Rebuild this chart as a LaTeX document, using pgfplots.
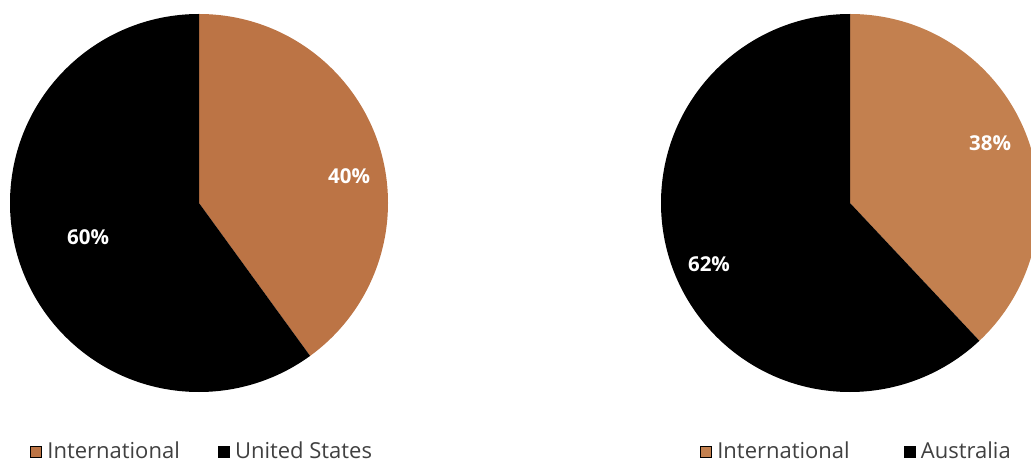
\documentclass[border=0pt]{standalone}
\usepackage{pgfplots}
\pgfplotsset{compat=1.18}
\usepackage{pgfplotstable}
\usepackage{fontspec}
\setmainfont{Open Sans}
\definecolor{orangeL}{HTML}{BC7445}
\definecolor{orangeR}{HTML}{C3804F}
\pgfplotstableread{
label value
International 40
UnitedStates 60
}\leftdata
\pgfplotstableread{
label value
International 38
Australia 62
}\rightdata
\tikzset{lbl/.style={font=\fontsize{20.5}{25}\selectfont\bfseries, text=white, anchor=center}}
\begin{document}
\pgfplotstablegetelem{0}{value}\of\leftdata \let\leftA\pgfplotsretval
\pgfplotstablegetelem{1}{value}\of\leftdata \let\leftB\pgfplotsretval
\pgfplotstablegetelem{0}{value}\of\rightdata \let\rightA\pgfplotsretval
\pgfplotstablegetelem{1}{value}\of\rightdata \let\rightB\pgfplotsretval
\begin{tikzpicture}[x=1pt,y=1pt]
\useasboundingbox (0,0) rectangle (1031,461);
\clip (0,0) rectangle (1031,461);
\pgfplotsset{
  pieax/.style={
    scale only axis, width=378pt, height=378pt,
    xmin=-1, xmax=1, ymin=-1, ymax=1,
    hide axis, clip=false,
    legend columns=2,
    legend style={draw=none, fill=none, anchor=west, inner sep=0pt,
      font=\fontsize{22}{26}\selectfont\color[HTML]{404040},
      nodes={inner sep=2pt}},
    legend image code/.code={\fill[##1] (0pt,-5.5pt) rectangle (11pt,5.5pt); \path[draw=none,fill=none] (15pt,0pt);},
  },
}
% left pie
\begin{axis}[pieax, at={(10pt,69pt)}, anchor=south west,
  legend style={at={(rel axis cs:0.053,-0.157)},
    /tikz/every even column/.append style={column sep=36pt}}]
\addlegendimage{fill=orangeL}
\addlegendentry{International}
\addlegendimage{fill=black}
\addlegendentry{United States}
\fill[orangeL] (0,0) -- (0,1) arc[start angle=90, end angle={90-3.6*\leftA}, radius=1] -- cycle;
\fill[black] (0,0) -- (0,1) arc[start angle=90, end angle={90+3.6*\leftB}, radius=1] -- cycle;
\node[lbl] at (0.794,0.143) {\leftA\%};
\node[lbl] at (-0.587,-0.180) {\leftB\%};
\end{axis}
% right pie
\begin{axis}[pieax, at={(661pt,69pt)}, anchor=south west,
  legend style={at={(rel axis cs:0.103,-0.157)},
    /tikz/every even column/.append style={column sep=52pt}}]
\addlegendimage{fill=orangeR}
\addlegendentry{International}
\addlegendimage{fill=black}
\addlegendentry{Australia}
\fill[orangeR] (0,0) -- (0,1) arc[start angle=90, end angle={90-3.6*\rightA}, radius=1] -- cycle;
\fill[black] (0,0) -- (0,1) arc[start angle=90, end angle={90+3.6*\rightB}, radius=1] -- cycle;
\node[lbl] at (0.741,0.317) {\rightA\%};
\node[lbl] at (-0.746,-0.323) {\rightB\%};
\end{axis}
\end{tikzpicture}
\end{document}
